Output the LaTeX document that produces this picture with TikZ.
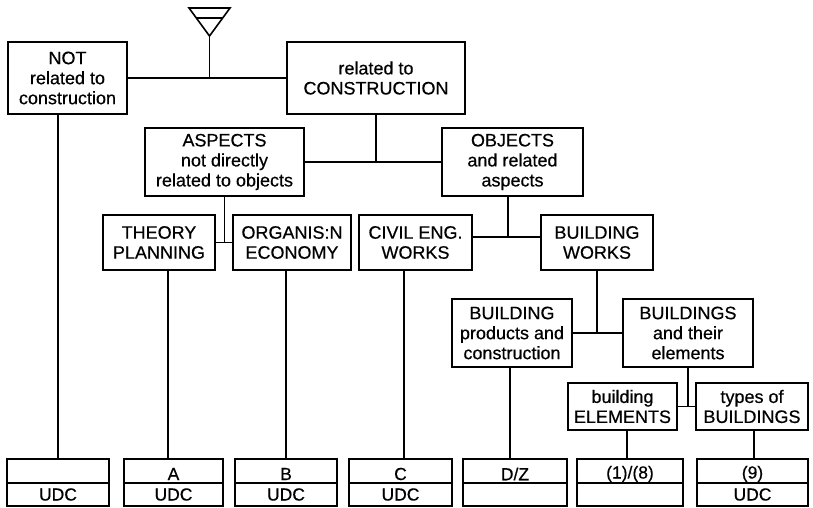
\documentclass[tikz,border=0pt]{standalone}
\usepackage{fontspec}
\setmainfont{Liberation Sans}[FakeBold=0.5]
\newcommand{\lowered}[1]{\raisebox{-3pt}[\height][\depth]{#1}}
\begin{document}
\begin{tikzpicture}[x=1pt,y=-1pt,line width=1.6pt,
  box/.style={draw, align=center, inner sep=0pt,
    font=\fontsize{18}{20}\selectfont},
  cell/.style={draw, inner sep=0pt, minimum width=#1,
    font=\fontsize{17.5}{20}\selectfont}]
\path[fill=white] (0,0) rectangle (813,508);
\useasboundingbox (0,0) rectangle (813,508);

% top level
\node[box, minimum width=119pt, minimum height=72pt] (NOT) at (67.5,78)
  {NOT\\related to\\construction};
\node[box, minimum width=178pt, minimum height=72pt] (REL) at (376,78)
  {related to\\CONSTRUCTION};

% second level
\node[box, minimum width=159pt, minimum height=68pt] (ASP) at (224.5,162)
  {ASPECTS\\not directly\\related to objects};
\node[box, minimum width=141pt, minimum height=68pt] (OBJ) at (512.5,162)
  {OBJECTS\\and related\\aspects};

% third level
\node[box, minimum width=112pt, minimum height=55pt] (THE) at (159,242.5)
  {THEORY\\PLANNING};
\node[box, minimum width=118pt, minimum height=55pt] (ORG) at (292,242.5)
  {ORGANIS:N\\ECONOMY};
\node[box, minimum width=113pt, minimum height=55pt] (CIV) at (415.5,242.5)
  {CIVIL ENG.\\WORKS};
\node[box, minimum width=112pt, minimum height=55pt] (BW) at (597,242.5)
  {BUILDING\\WORKS};

% fourth level
\node[box, minimum width=120pt, minimum height=68pt] (BP) at (512,333)
  {BUILDING\\products and\\construction};
\node[box, minimum width=130pt, minimum height=68pt] (BS) at (688,333)
  {BUILDINGS\\and their\\elements};

% fifth level
\node[box, minimum width=109pt, minimum height=47pt] (EL) at (622.5,406.5)
  {building\\ELEMENTS};
\node[box, minimum width=112pt, minimum height=47pt] (TY) at (752,406.5)
  {types of\\BUILDINGS};

% code boxes along the bottom
\node[cell=102pt, minimum height=24pt] (U1) at (58,471) {};
\node[cell=102pt, minimum height=23pt] (U1b) at (58,494.5) {UDC};
\node[cell=99pt, minimum height=24pt] (UA) at (173.5,471) {\lowered{A}};
\node[cell=99pt, minimum height=23pt] (UAb) at (173.5,494.5) {UDC};
\node[cell=102pt, minimum height=24pt] (UB) at (286,471) {\lowered{B}};
\node[cell=102pt, minimum height=23pt] (UBb) at (286,494.5) {UDC};
\node[cell=103pt, minimum height=24pt] (UC) at (400.5,471) {\lowered{C}};
\node[cell=103pt, minimum height=23pt] (UCb) at (400.5,494.5) {UDC};
\node[cell=104pt, minimum height=24pt] (UD) at (515,471) {\lowered{D/Z}};
\node[cell=104pt, minimum height=23pt] (UDb) at (515,494.5) {};
\node[cell=106pt, minimum height=24pt] (U18) at (630,471) {\lowered{(1)/(8)}};
\node[cell=106pt, minimum height=23pt] (U18b) at (630,494.5) {};
\node[cell=111pt, minimum height=24pt] (U9) at (752.5,471) {\lowered{(9)}};
\node[cell=111pt, minimum height=23pt] (U9b) at (752.5,494.5) {UDC};

% entry symbol
\coordinate (apex) at (209.5,36);
\draw[line join=miter] (189,8) -- (230,8) -- (apex) -- cycle;
\draw (196.5,18) -- (222.5,18);

% connectors
\draw (apex) -- (apex |- NOT.east);
\draw (NOT.east) -- (REL.west);

\draw (REL.south) -- (REL.south |- ASP.east);
\draw (ASP.east) -- (OBJ.west);

\draw (ASP.south) -- (ASP.south |- THE.east);
\draw (THE.east) -- (ORG.west);

\coordinate (objs) at ([xshift=-4.5pt]OBJ.south);
\coordinate (civj) at ([yshift=5.5pt]CIV.east);
\draw (objs) -- (objs |- civj);
\draw (civj) -- (civj -| BW.west);

\draw (BW.south) -- (BW.south |- BP.east);
\draw (BP.east) -- (BS.west);

\draw (BS.south) -- (BS.south |- EL.east);
\draw (EL.east) -- (TY.west);

% stems down to the code boxes
\coordinate (s1) at ([xshift=-9.5pt]NOT.south);
\draw (s1) -- (s1 |- U1.north);
\coordinate (s2) at ([xshift=9pt]THE.south);
\draw (s2) -- (s2 |- UA.north);
\coordinate (s3) at ([xshift=-6pt]ORG.south);
\draw (s3) -- (s3 |- UB.north);
\coordinate (s4) at ([xshift=-11.5pt]CIV.south);
\draw (s4) -- (s4 |- UC.north);
\coordinate (s5) at ([xshift=-2pt]BP.south);
\draw (s5) -- (s5 |- UD.north);
\coordinate (s6) at ([xshift=4.5pt]EL.south);
\draw (s6) -- (s6 |- U18.north);
\coordinate (s7) at ([xshift=2pt]TY.south);
\draw (s7) -- (s7 |- U9.north);
\end{tikzpicture}
\end{document}
